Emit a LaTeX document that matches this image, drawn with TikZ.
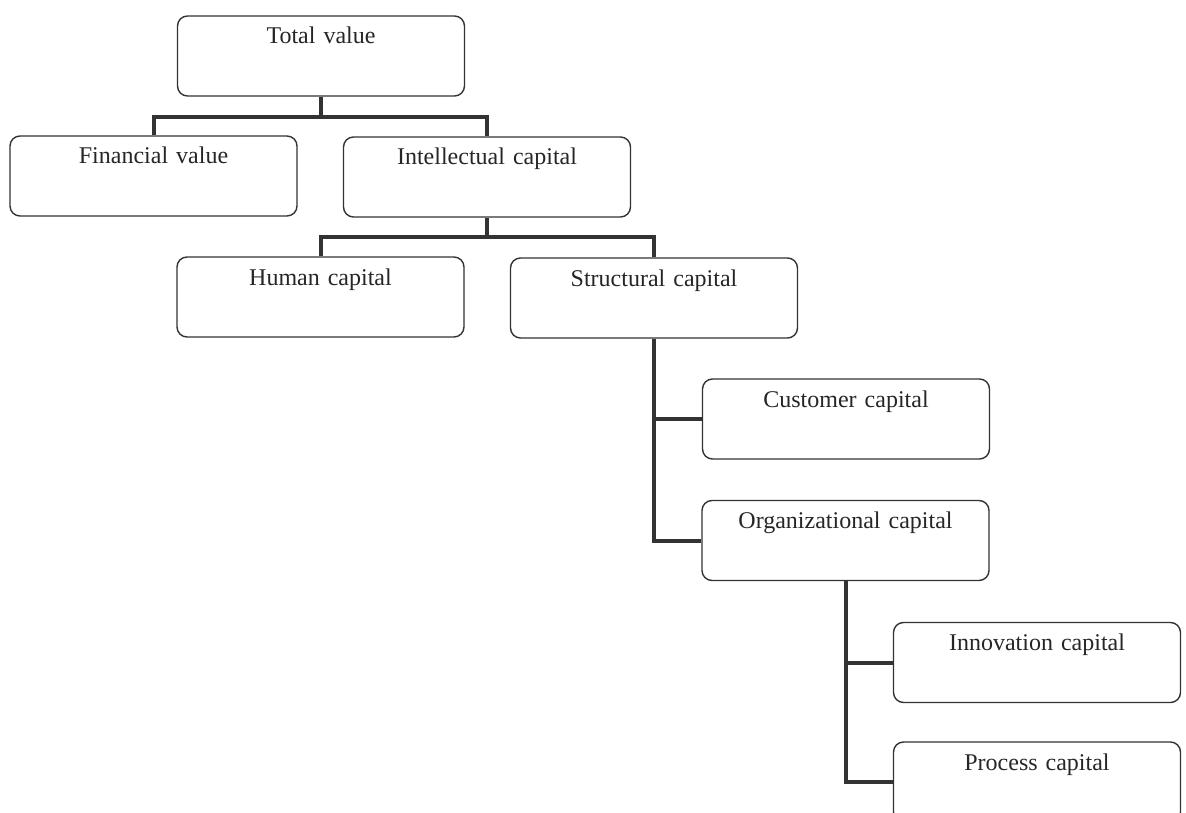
\documentclass[tikz,border=0pt]{standalone}
\usepackage{fontspec}
\setmainfont{Liberation Serif}

\begin{document}
\begin{tikzpicture}[x=1pt, y=-1pt,
  capbox/.style={draw=black!80, line width=1.4pt, rounded corners=10pt,
    inner sep=0pt, text width=287pt, align=center,
    text height=28pt, text depth=52pt,
    font=\fontsize{24}{28}\selectfont, text=black!85},
  link/.style={draw=black!80, line width=4pt, line join=miter}]
  \useasboundingbox (0,0) rectangle (1186,813);
  % boxes
  \node[capbox] (total)  at (321,56)    {Total value};
  \node[capbox] (fin)    at (153.5,176) {Financial value};
  \node[capbox] (intel)  at (487,177)   {Intellectual capital};
  \node[capbox] (human)  at (320.5,297) {Human capital};
  \node[capbox] (struct) at (654,298)   {Structural capital};
  \node[capbox] (cust)   at (846,419)   {Customer capital};
  \node[capbox] (org)    at (845.5,540.5) {Organizational capital};
  \node[capbox] (innov)  at (1037,662.5) {Innovation capital};
  \node[capbox] (proc)   at (1037,782)  {Process capital};
  % tree links
  \draw[link] (total.south) -- ++(0,20) coordinate (j1);
  \draw[link] (fin.north) |- (j1) -| (intel.north);
  \draw[link] (intel.south) -- ++(0,19) coordinate (j2);
  \draw[link] (human.north) |- (j2) -| (struct.north);
  \draw[link] (struct.south) |- (org.west);
  \draw[link] (struct.south |- cust.west) -- (cust.west);
  \draw[link] (org.south) |- (proc.west);
  \draw[link] (org.south |- innov.west) -- (innov.west);
\end{tikzpicture}
\end{document}
